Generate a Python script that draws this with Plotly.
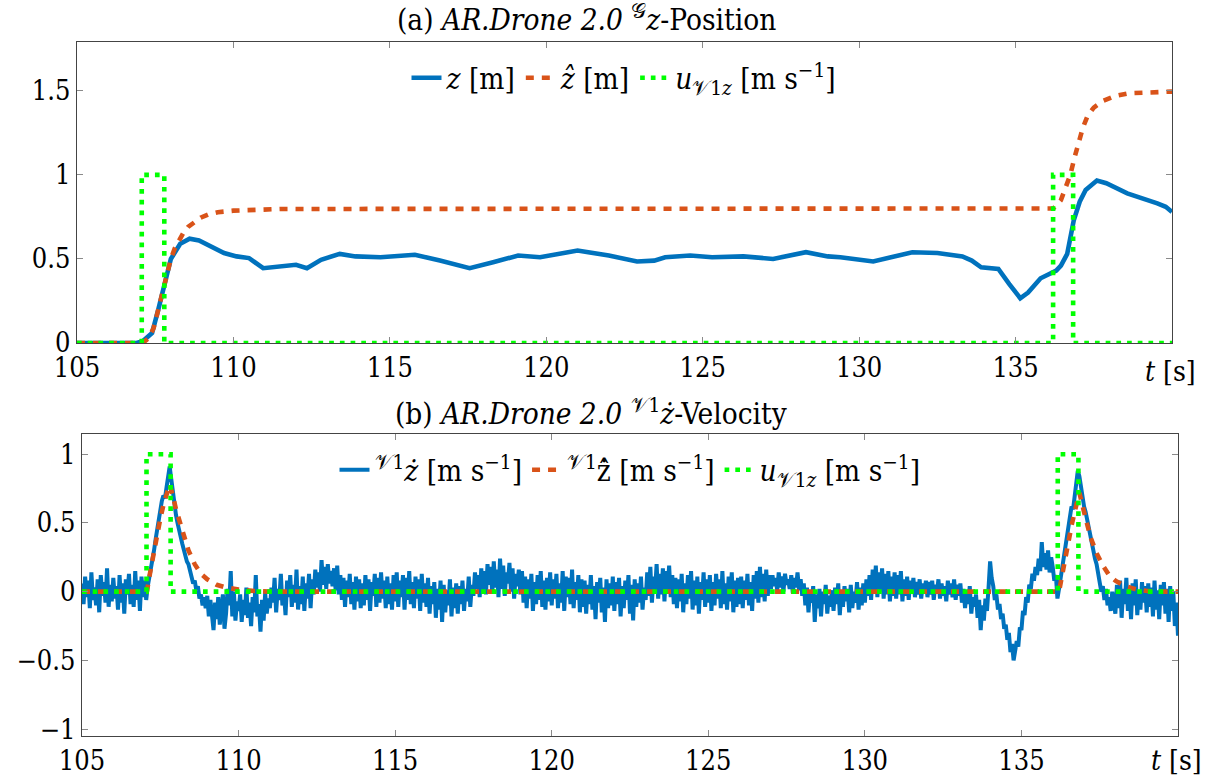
import numpy as np
import plotly.graph_objects as go

BLUE = "#0072BD"
ORANGE = "#D95319"
GREEN = "#00FF00"
FONT = "DejaVu Serif Condensed, DejaVu Serif, serif"
FS_TICK = 27
FS_TEXT = 29.5

# ---------------- (a) z-position ----------------
t_z = [105.0, 106.9, 107.1, 107.4, 107.6, 107.8, 108.0, 108.3, 108.6, 108.9,
       109.3, 109.7, 110.1, 110.5, 110.95, 111.5, 112.0, 112.35, 112.8, 113.4,
       113.9, 114.7, 115.8, 116.6, 117.55, 118.3, 119.1, 119.8, 121.0, 122.0,
       122.55, 122.9, 123.45, 123.8, 124.6, 125.3, 126.3, 127.25, 128.3, 129.0,
       129.4, 130.45, 131.7, 132.5, 133.3, 133.6, 133.9, 134.45, 134.8, 135.15,
       135.4, 135.8, 136.3, 136.45, 136.65, 136.86, 137.05, 137.24, 137.6, 137.9,
       138.57, 139.0, 139.53, 139.8, 140.0]
z_meas = [0.0, 0.0, 0.01, 0.06, 0.2, 0.36, 0.5, 0.59, 0.62, 0.61,
          0.57, 0.535, 0.515, 0.505, 0.445, 0.455, 0.465, 0.445, 0.495, 0.53,
          0.515, 0.51, 0.525, 0.49, 0.445, 0.48, 0.52, 0.51, 0.55, 0.52,
          0.5, 0.485, 0.49, 0.51, 0.52, 0.51, 0.515, 0.5, 0.54, 0.515,
          0.51, 0.485, 0.54, 0.535, 0.515, 0.49, 0.45, 0.44, 0.35, 0.266,
          0.3, 0.385, 0.43, 0.46, 0.53, 0.73, 0.84, 0.91, 0.966, 0.95,
          0.89, 0.865, 0.83, 0.81, 0.78]

t_zhat = [105.0, 107.1, 107.3, 107.45, 107.6, 107.7, 107.8, 107.9, 108.0, 108.12,
          108.25, 108.4, 108.55, 108.75, 108.95, 109.2, 109.5, 110.0, 110.5, 111.5,
          136.2, 136.3, 136.45, 136.6, 136.75, 136.88, 137.0, 137.15, 137.3, 137.5,
          137.8, 138.2, 138.6, 139.2, 140.0]
z_hat = [0.0, 0.0, 0.03, 0.09, 0.2, 0.28, 0.35, 0.43, 0.5, 0.56,
         0.61, 0.655, 0.69, 0.72, 0.745, 0.765, 0.778, 0.787, 0.792, 0.797,
         0.8, 0.815, 0.85, 0.92, 1.0, 1.1, 1.19, 1.28, 1.35, 1.4,
         1.44, 1.47, 1.485, 1.492, 1.495]

t_u_a = [105.0, 107.07, 107.07, 107.79, 107.79, 136.2, 136.2, 136.84, 136.84, 140.0]
u_a = [0, 0, 1, 1, 0, 0, 1, 1, 0, 0]

# ---------------- (b) z-velocity ----------------
# measured velocity in cm/s, sampled at 20 Hz (one row per second)
v_meas_cm = [
    6, -9, 11, -4, 8, -12, 14, -6, 3, -10, 9, -15, 12, -3, 7, -8, 17, -11, 5, -7,          # 105
    10, -5, 4, -13, 12, -8, 6, -16, 9, -2, 13, -9, 5, -11, 15, -6, 8, -14, 11, -4,          # 106
    8, -6, 4, 10, 16, 24, 30, 38, 45, 54, 62, 66, 70, 68, 76, 84, 91, 82, 72, 64,           # 107
    56, 50, 46, 40, 35, 30, 27, 22, 20, 15, 12, 6, 8, 1, 4, -5, -2, -10, -4, -12,          # 108
    -3, -18, -6, -15, -28, -8, -20, -4, -24, -12, -2, -27, -16, 2, -10, 15, -18, 0, -21, -7,   # 109
    -14, -2, -22, -6, -17, 3, -19, -8, -25, -4, -15, 12, -18, -9, -29, -6, -21, -1, -16, -5,  # 110
    -12, 3, -8, 10, -15, 2, -6, 13, -10, -1, -17, 8, -4, 12, -11, 5, -8, 16, -13, 4,       # 111
    -9, 11, -14, 6, -5, 13, -12, 9, -2, 16, 3, 14, 0, 23, 5, 18, 2, 20, 6, 15,             # 112
    4, 17, 1, 19, -2, 12, -6, 10, -11, 8, -4, 13, -9, 7, -13, 11, -7, 9, -12, 6,           # 113
    -10, 12, -6, 9, -14, 7, -3, 13, -11, 10, -8, 14, -5, 8, -12, 11, -9, 6, -13, 12,       # 114
    -7, 14, -11, 8, -4, 12, -13, 10, -6, 15, -9, 7, -12, 11, -5, 9, -14, 13, -8, 6,        # 115
    -11, 10, -16, 4, -9, 7, -19, 2, -13, 8, -22, 5, -15, 1, -10, 9, -18, 3, -12, 6,        # 116
    -16, 4, -9, 8, -14, 2, -7, 11, -11, 5, -3, 14, 2, 12, -4, 17, 1, 15, -2, 20,           # 117
    5, 18, -1, 22, 3, 16, -4, 24, 2, 19, -3, 14, 6, 21, 0, 17, -5, 13, 4, 16,              # 118
    -2, 15, -8, 11, -12, 9, -5, 13, -14, 7, -9, 12, -6, 15, -11, 8, -13, 10, -7, 14,       # 119
    -10, 9, -5, 13, -12, 6, -8, 15, -14, 11, -4, 10, -9, 16, -12, 7, -6, 12, -15, 9,       # 120
    -11, 8, -16, 5, -9, 12, -13, 4, -20, 7, -8, 10, -15, 3, -22, 9, -12, 6, -10, 11,       # 121
    -14, 7, -9, 10, -18, 4, -12, 8, -6, 12, -16, 5, -21, 9, -11, 6, -8, 11, -13, 3,        # 122
    -6, 14, -3, 18, -8, 11, 0, 20, -5, 13, -2, 17, -7, 15, 1, 19, -4, 12, -9, 10,          # 123
    -12, 9, -7, 13, -15, 6, -9, 12, -5, 15, -13, 8, -10, 11, -16, 7, -6, 14, -11, 9,       # 124
    -8, 12, -14, 7, -10, 13, -5, 9, -12, 15, -9, 6, -13, 11, -7, 14, -15, 8, -11, 10,      # 125
    -9, 11, -12, 8, -6, 13, -10, 7, -14, 12, -5, 15, -8, 18, -4, 13, -7, 16, -3, 12,       # 126
    2, 12, 4, 10, 1, 14, 3, 11, 0, 13, 5, 9, 2, 12, -1, 10, 3, 14, 1, 9,                   # 127
    -3, 6, -10, 3, -15, 1, -8, 4, -22, -2, -12, 2, -18, 0, -9, 5, -16, -3, -11, 1,         # 128
    -14, 3, -9, 6, -17, 1, -11, 4, -7, 2, -15, 5, -12, 0, -8, 7, -13, 3, -10, 6,           # 129
    -8, 9, -3, 12, -6, 16, -1, 19, -4, 14, 0, 17, -5, 13, -2, 15, -7, 11, -3, 14,          # 130
    -5, 12, -2, 15, -7, 9, -3, 11, -6, 8, -1, 10, -4, 7, -2, 9, -5, 6, 0, 8,               # 131
    -4, 7, -2, 8, -6, 5, -1, 9, -5, 6, -3, 4, -7, 8, -2, 6, -4, 9, -6, 5,                  # 132
    -3, 6, -8, 2, -12, -1, -9, 4, -16, -4, -11, -2, -19, -6, -28, -10, -21, -5, -14, 3,    # 133
    22, 10, 4, -6, -2, -13, -9, -20, -16, -27, -24, -35, -30, -44, -38, -50, -42, -36, -40, -26,  # 134
    -28, -14, -17, -4, -8, 5, 2, 13, 8, 18, 12, 24, 15, 36, 18, 28, 16, 30, 14, 25,        # 135
    18, 8, 12, -5, 2, 10, 18, 26, 34, 42, 48, 55, 62, 60, 68, 76, 88, 84, 76, 70,          # 136
    62, 58, 52, 47, 42, 34, 30, 24, 20, 12, 8, 0, 4, -6, 2, -10, -4, -14, 0, -11,          # 137
    -16, 5, -12, 8, -19, 2, -9, 10, -14, 3, -20, 6, -10, 9, -17, 1, -13, 7, -8, 4,         # 138
    -15, 6, -11, 3, -18, 8, -13, 1, -20, 5, -10, 7, -16, 2, -22, 4, -14, 0, -25, -8,       # 139
    -32,                                                                                  # 140
]
t_v = np.linspace(105.0, 140.0, len(v_meas_cm))
v_meas = np.array(v_meas_cm) / 100.0

t_vhat = [105.0, 107.07, 107.2, 107.3, 107.4, 107.5, 107.6, 107.7, 107.8, 107.9,
          108.0, 108.2, 108.4, 108.6, 108.8, 109.0, 109.3, 109.6, 110.0, 110.5,
          111.0, 136.2, 136.3, 136.4, 136.5, 136.6, 136.7, 136.85, 137.0, 137.2,
          137.4, 137.6, 137.8, 138.0, 138.3, 138.7, 139.2, 140.0]
v_hat = [0.0, 0.0, 0.17, 0.30, 0.42, 0.53, 0.63, 0.71, 0.78, 0.70,
         0.60, 0.45, 0.30, 0.20, 0.13, 0.09, 0.05, 0.03, 0.015, 0.005,
         0.0, 0.0, 0.13, 0.25, 0.37, 0.48, 0.58, 0.72, 0.58, 0.40,
         0.28, 0.19, 0.12, 0.08, 0.04, 0.015, 0.0, 0.0]

t_u_b = [105.0, 107.06, 107.06, 107.83, 107.83, 136.16, 136.16, 136.82, 136.82, 140.0]
u_b = [0, 0, 1, 1, 0, 0, 1, 1, 0, 0]

LBL_Z = "<i>z</i> [m]"
LBL_ZHAT = "<i>ẑ</i> [m]"
LBL_U = "<i>u</i><sub>𝒱1<i>z</i></sub> [m s<sup>−1</sup>]"
LBL_V = "<sup>𝒱1</sup><i>ż</i> [m s<sup>−1</sup>]"
LBL_VHAT = "<sup>𝒱1</sup>ż̂ [m s<sup>−1</sup>]"

W, H = 1209, 782
LW = 4.6
DASH = "8px,8px"
DOT = "4.7px,6px"

fig = go.Figure()

# (a)
fig.add_trace(go.Scatter(x=t_z, y=z_meas, mode="lines", name=LBL_Z,
                         line=dict(color=BLUE, width=LW), legend="legend",
                         xaxis="x", yaxis="y"))
fig.add_trace(go.Scatter(x=t_zhat, y=z_hat, mode="lines", name=LBL_ZHAT,
                         line=dict(color=ORANGE, width=LW, dash=DASH),
                         legend="legend", xaxis="x", yaxis="y"))
fig.add_trace(go.Scatter(x=t_u_a, y=u_a, mode="lines", name=LBL_U,
                         line=dict(color=GREEN, width=LW, dash=DOT),
                         legend="legend", xaxis="x", yaxis="y"))

# (b)
fig.add_trace(go.Scatter(x=t_v, y=v_meas, mode="lines", name=LBL_V,
                         line=dict(color=BLUE, width=4.0), legend="legend2",
                         xaxis="x2", yaxis="y2"))
fig.add_trace(go.Scatter(x=t_vhat, y=v_hat, mode="lines", name=LBL_VHAT,
                         line=dict(color=ORANGE, width=LW, dash=DASH),
                         legend="legend2", xaxis="x2", yaxis="y2"))
fig.add_trace(go.Scatter(x=t_u_b, y=u_b, mode="lines", name=LBL_U,
                         line=dict(color=GREEN, width=LW, dash=DOT),
                         legend="legend2", xaxis="x2", yaxis="y2"))

axis_common = dict(
    showgrid=False, zeroline=False, showline=True, linecolor="#444444",
    linewidth=1.3, mirror="ticks", ticks="inside", ticklen=6,
    tickcolor="#8a8a8a", tickwidth=1, automargin=False,
    tickfont=dict(family=FONT, size=FS_TICK, color="black"),
)
xt = [105, 110, 115, 120, 125, 130, 135]

fig.update_layout(
    width=W, height=H,
    margin=dict(l=0, r=0, t=0, b=0, autoexpand=False),
    paper_bgcolor="white", plot_bgcolor="white",
    font=dict(family=FONT, size=FS_TEXT, color="black"),
    xaxis=dict(domain=[77 / W, 1172 / W], range=[105, 140], tickvals=xt,
               ticktext=[str(v) for v in xt], anchor="y", **axis_common),
    yaxis=dict(domain=[1 - 343 / H, 1 - 42 / H], range=[0, 1.79],
               tickvals=[0, 0.5, 1, 1.5], ticktext=["0", "0.5", "1", "1.5"],
               anchor="x", **axis_common),
    xaxis2=dict(domain=[82 / W, 1178 / W], range=[105, 140], tickvals=xt,
                ticktext=[str(v) for v in xt], anchor="y2", **axis_common),
    yaxis2=dict(domain=[1 - 736 / H, 1 - 434 / H], range=[-1.05, 1.147],
                tickvals=[-1, -0.5, 0, 0.5, 1],
                ticktext=["−1", "−0.5", "0", "0.5", "1"],
                anchor="x2", **axis_common),
    legend=dict(orientation="h", x=624 / W, xanchor="center", y=1 - 78 / H,
                yanchor="middle", bgcolor="rgba(0,0,0,0)",
                font=dict(family=FONT, size=FS_TEXT, color="black")),
    legend2=dict(orientation="h", x=630 / W, xanchor="center", y=1 - 470 / H,
                 yanchor="middle", bgcolor="rgba(0,0,0,0)",
                 font=dict(family=FONT, size=FS_TEXT, color="black")),
    showlegend=True,
    annotations=[
        dict(text="(a) <i>AR.Drone 2.0</i> <sup>𝒢</sup><i>z</i>-Position",
             x=586 / W, y=1 - 18 / H, xref="paper", yref="paper",
             xanchor="center", yanchor="middle", showarrow=False,
             font=dict(family=FONT, size=FS_TEXT)),
        dict(text="(b) <i>AR.Drone 2.0</i> <sup>𝒱1</sup><i>ż</i>-Velocity",
             x=591 / W, y=1 - 412 / H, xref="paper", yref="paper",
             xanchor="center", yanchor="middle", showarrow=False,
             font=dict(family=FONT, size=FS_TEXT)),
        dict(text="<i>t</i> [s]", x=1170 / W, y=1 - 371 / H, xref="paper",
             yref="paper", xanchor="center", yanchor="middle", showarrow=False,
             font=dict(family=FONT, size=FS_TICK + 1)),
        dict(text="<i>t</i> [s]", x=1176 / W, y=1 - 760 / H, xref="paper",
             yref="paper", xanchor="center", yanchor="middle", showarrow=False,
             font=dict(family=FONT, size=FS_TICK + 1)),
    ],
)

fig.write_html("out.html")
